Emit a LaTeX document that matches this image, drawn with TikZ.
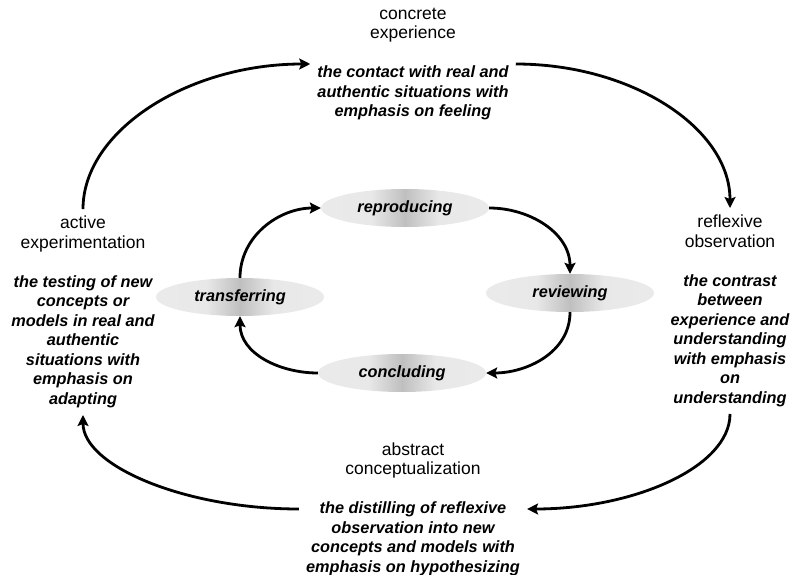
\documentclass[tikz,border=0pt]{standalone}
\usepackage{fontspec}
\setmainfont{Liberation Sans}
\usetikzlibrary{shapes.geometric, arrows.meta, positioning}

\newcommand{\hd}[1]{{\fontsize{17.5}{19.5}\selectfont\mdseries\upshape #1}}

\pgfdeclarehorizontalshading{stageshade}{100bp}{color(0bp)=(black!8); color(25bp)=(black!8);
    color(40bp)=(black!9); color(50bp)=(black!25); color(60bp)=(black!9);
    color(75bp)=(black!8); color(100bp)=(black!8)}

\begin{document}
\begin{tikzpicture}[
    x=1pt, y=-1pt,
    >={Stealth[length=11pt, width=11pt, inset=2pt]},
    phase/.style={align=center, inner sep=7pt, font=\fontsize{16.3}{19.5}\selectfont\bfseries\itshape},
    stage/.style={ellipse, minimum width=168pt, minimum height=38pt, inner sep=0pt,
        shading=stageshade, font=\fontsize{16.3}{19}\selectfont\bfseries\itshape},
    cyclearrow/.style={->, line width=2.8pt}
]
    \useasboundingbox (0,0) rectangle (790,575);

    % --- OUTER PHASES ---
    \node[phase] (concrete) at (413,64)
        {\hd{concrete}\\\hd{experience}\\[19.5pt]the contact with real and\\authentic situations with\\emphasis on feeling};
    \node[phase] (reflexive) at (730,311)
        {\hd{reflexive}\\\hd{observation}\\[19.5pt]the contrast\\between\\experience and\\understanding\\with emphasis\\on\\understanding};
    \node[phase] (abstract) at (413,509)
        {\hd{abstract}\\\hd{conceptualization}\\[19.5pt]the distilling of reflexive\\observation into new\\concepts and models with\\emphasis on hypothesizing};
    \node[phase] (active) at (83,312)
        {\hd{active}\\\hd{experimentation}\\[19.5pt]the testing of new\\concepts or\\models in real and\\authentic\\situations with\\emphasis on\\adapting};

    % --- INNER STAGES ---
    \node[stage] (reproducing) at (405,208) {reproducing};
    \node[stage] (reviewing) at (570,293) {reviewing};
    \node[stage] (concluding) at (402,373) {concluding};
    \node[stage] (transferring) at (240,297) {transferring};

    % --- OUTER CYCLE ---
    \draw[cyclearrow] (active.north) .. controls +(0,-78) and +(-123,0) .. (concrete.west);
    \draw[cyclearrow] (concrete.east) .. controls +(116,0) and +(0,-80) .. (reflexive.north);
    \draw[cyclearrow] (reflexive.south) .. controls +(0,53) and +(107,0) .. (abstract.east);
    \draw[cyclearrow] (abstract.west) .. controls +(-114,0) and +(0,51) .. (active.south);

    % --- INNER CYCLE ---
    \draw[cyclearrow] (transferring.north) to[out=90, in=180] (reproducing.west);
    \draw[cyclearrow] (reproducing.east) to[out=0, in=90] (reviewing.north);
    \draw[cyclearrow] (reviewing.south) to[out=-90, in=0] (concluding.east);
    \draw[cyclearrow] (concluding.west) to[out=180, in=-90] (transferring.south);

\end{tikzpicture}
\end{document}
